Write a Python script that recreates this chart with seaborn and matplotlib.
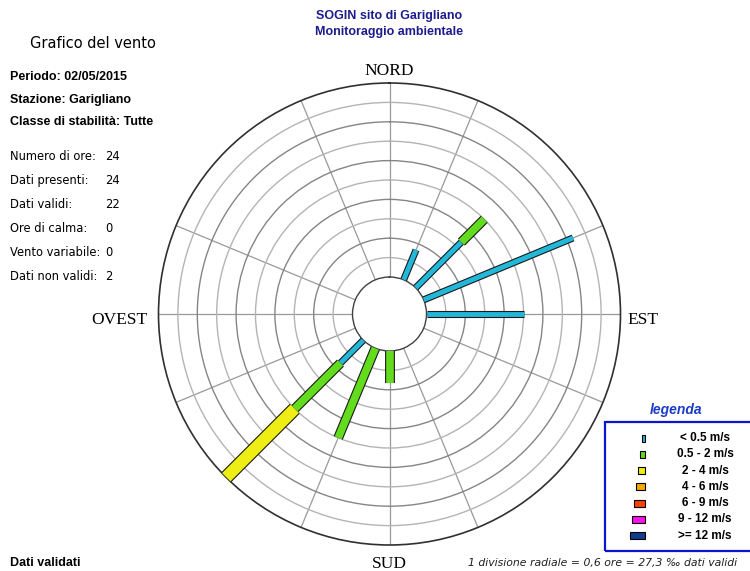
import numpy as np
import matplotlib
matplotlib.use("Agg")
import matplotlib.pyplot as plt
import matplotlib.patheffects as pe
from matplotlib.patches import Rectangle
import seaborn as sns

# wind rose data (hours per direction, per speed class)
directions = ['N', 'NNE', 'NE', 'ENE', 'E', 'ESE', 'SE', 'SSE',
              'S', 'SSW', 'SW', 'WSW', 'W', 'WNW', 'NW', 'NNW']
hours_lt05 = [0, 1, 2, 5, 3, 0, 0, 0, 0, 0, 1, 0, 0, 0, 0, 0]
hours_05_2 = [0, 0, 1, 0, 0, 0, 0, 0, 1, 3, 2, 0, 0, 0, 0, 0]
hours_2_4 = [0, 0, 0, 0, 0, 0, 0, 0, 0, 0, 3, 0, 0, 0, 0, 0]
hours_4_6 = [0] * 16
hours_6_9 = [0] * 16
hours_9_12 = [0] * 16
hours_ge12 = [0] * 16

classes = ['< 0.5 m/s', '0.5 - 2 m/s', '2 - 4 m/s', '4 - 6 m/s',
           '6 - 9 m/s', '9 - 12 m/s', '>= 12 m/s']
class_colors = ['#22b8da', '#62dc1c', '#eeee14', '#f6a800',
                '#ff4204', '#ff10ec', '#143c8c']

stat_labels = ['Numero di ore:', 'Dati presenti:', 'Dati validi:',
               'Ore di calma:', 'Vento variabile:', 'Dati non validi:']
stat_values = ['24', '24', '22', '0', '0', '2']

division = 0.6  # ore per divisione radiale
n_div = 10

sns.set_theme(style="white")
plt.rcParams['font.family'] = ['DejaVu Sans']
plt.rcParams['text.color'] = 'black'

W, H = 750, 571
fig = plt.figure(figsize=(7.5, 5.71), dpi=100)


def fx(x):
    return x / W


def fy(y):
    return 1 - y / H


# polar axes: centre (389.5, 314), radius 231 px
cx, cy, R = 389.5, 314, 231
ax = fig.add_axes([fx(cx - R), fy(cy + R), 2 * R / W, 2 * R / H],
                  projection='polar')
ax.set_theta_zero_location('N')
ax.set_theta_direction(-1)
rmax = division * n_div
hole_px = 37
ax.set_ylim(0, rmax)
ax.set_rorigin(-hole_px / (R - hole_px) * rmax)

spokes = [0, 22.5, 67.5, 90, 112.5, 157.5, 180, 202.5, 247.5, 270, 292.5, 337.5]
ax.set_xticks(np.deg2rad(spokes))
ax.set_xticklabels([])
ax.set_yticks([division * i for i in range(1, n_div)])
ax.set_yticklabels([])
ax.grid(True)
for gl in ax.xaxis.get_gridlines():
    gl.set_color('#999999')
    gl.set_linewidth(0.9)
for i, gl in enumerate(ax.yaxis.get_gridlines()):
    gl.set_color('#b4b4b4' if i % 2 == 0 else '#858585')
    gl.set_linewidth(1.0)
ax.spines['polar'].set_color('#303030')
ax.spines['polar'].set_linewidth(1.2)
ax.spines['inner'].set_color('#404040')
ax.spines['inner'].set_linewidth(1.0)
ax.set_facecolor('white')

theta = np.deg2rad(np.arange(16) * 22.5)
series = [hours_lt05, hours_05_2, hours_2_4, hours_4_6,
          hours_6_9, hours_9_12, hours_ge12]
widths = [3.5, 5.5, 8.5, 10, 11, 12, 13]
base = np.zeros(16)
for vals, col, lw in zip(series, class_colors, widths):
    vals = np.array(vals, dtype=float)
    for t, b, v in zip(theta, base, vals):
        if v > 0:
            ax.plot([t, t], [b, b + v], color=col, lw=lw,
                    solid_capstyle='butt', zorder=3,
                    path_effects=[pe.Stroke(linewidth=lw + 1.6, foreground='#1a1a1a'),
                                  pe.Normal()])
    base = base + vals

# titles
bold_font = ['Liberation Sans', 'DejaVu Sans']
fig.text(fx(389), fy(16), 'SOGIN sito di Garigliano', ha='center', va='center',
         color='#1c1c8c', fontsize=9, fontweight='bold', family=bold_font)
fig.text(fx(389), fy(32), 'Monitoraggio ambientale', ha='center', va='center',
         color='#1c1c8c', fontsize=9, fontweight='bold', family=bold_font)
fig.text(fx(30), fy(44), 'Grafico del vento', ha='left', va='center',
         fontsize=10.5, family=['DejaVu Sans'])

for y, s in zip([77, 100, 122], ['Periodo: 02/05/2015', 'Stazione: Garigliano',
                                 'Classe di stabilità: Tutte']):
    fig.text(fx(10), fy(y), s, ha='left', va='center', fontsize=9,
             fontweight='bold', family=bold_font)

for i, (lab, val) in enumerate(zip(stat_labels, stat_values)):
    y = 157 + i * 23.8
    fig.text(fx(10), fy(y), lab, ha='left', va='center', fontsize=8.3)
    fig.text(fx(105), fy(y), val, ha='left', va='center', fontsize=8.3)

fig.text(fx(10), fy(563), 'Dati validati', ha='left', va='center', fontsize=9,
         fontweight='bold', family=bold_font)
fig.text(fx(468), fy(563), '1 divisione radiale = 0,6 ore = 27,3 \u2030 dati validi',
         ha='left', va='center', fontsize=7.8, style='italic', color='#202020')

# compass labels
serif = ['Liberation Serif', 'DejaVu Serif']
fig.text(fx(389), fy(71), 'NORD', ha='center', va='center', fontsize=12.5, family=serif)
fig.text(fx(389), fy(564), 'SUD', ha='center', va='center', fontsize=12.5, family=serif)
fig.text(fx(627), fy(320), 'EST', ha='left', va='center', fontsize=12.5, family=serif)
fig.text(fx(147), fy(320), 'OVEST', ha='right', va='center', fontsize=12.5, family=serif)

# legend
fig.text(fx(676), fy(410), 'legenda', ha='center', va='center', color='#1c3cc8',
         fontsize=10, fontweight='bold', style='italic', family=bold_font)
fig.patches.append(Rectangle((fx(605), fy(551)), fx(160), (551 - 421.5) / H,
                             transform=fig.transFigure, fill=False,
                             edgecolor='#0a14d2', linewidth=1.6))
sq_w = [3, 5, 7, 9, 11, 13, 15]
for i, (lab, col, w) in enumerate(zip(classes, class_colors, sq_w)):
    y = 438 + i * 16.3
    fig.patches.append(Rectangle((fx(645 - w), fy(y + 3.5)), w / W, 7 / H,
                                 transform=fig.transFigure, facecolor=col,
                                 edgecolor='black', linewidth=0.8))
    fig.text(fx(705), fy(y), lab, ha='center', va='center', fontsize=8.5,
             fontweight='bold', family=bold_font)

fig.savefig('out.png', dpi=100, facecolor='white')
